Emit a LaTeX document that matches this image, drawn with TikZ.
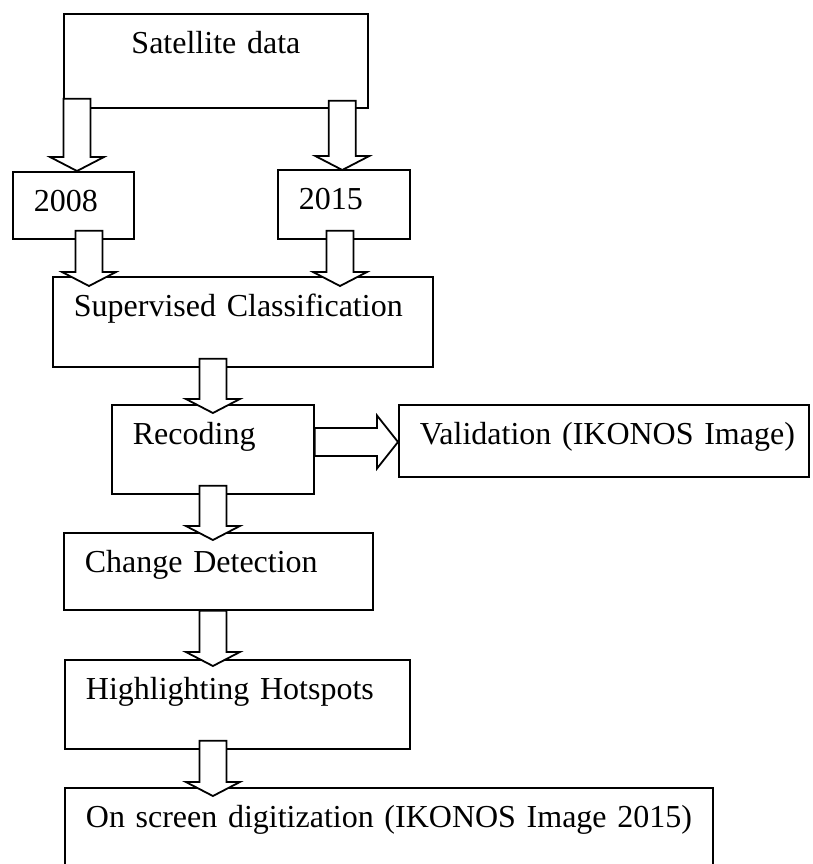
\documentclass[tikz,border=0pt]{standalone}
\usepackage{fontspec}
\setmainfont[WordSpace=0.7]{Liberation Serif}
\usetikzlibrary{calc}

\tikzset{
  box/.style={draw, line width=1.8pt, anchor=north west, inner xsep=21pt, inner ysep=0pt,
    text height=40pt, align=left, font=\fontsize{32}{38}\selectfont},
  blk/.style={draw, line width=1.8pt, fill=white, miter limit=20},
}

% hollow block arrows: tail point, tip point
\newcommand{\blkdown}[2]{%
  \draw[blk] ($(#1)+(-13.5,0)$) -- ($(#2)+(-13.5,-14)$) -- ($(#2)+(-27,-14)$) -- (#2)
    -- ($(#2)+(27,-14)$) -- ($(#2)+(13.5,-14)$) -- ($(#1)+(13.5,0)$) -- cycle;}
\newcommand{\blkright}[2]{%
  \draw[blk] ($(#1)+(0,-14)$) -- ($(#2)+(-21,-14)$) -- ($(#2)+(-21,-26.5)$) -- (#2)
    -- ($(#2)+(-21,26.5)$) -- ($(#2)+(-21,14)$) -- ($(#1)+(0,14)$) -- cycle;}

\begin{document}
\begin{tikzpicture}[x=1pt, y=-1pt]
    \useasboundingbox (0,0) rectangle (812,864);
    \clip (0,0) rectangle (812,864);

    % Boxes
    \node[box, text width=262pt, text depth=54pt, align=center] (sat) at (63,13) {Satellite data};
    \node[box, text width=79pt, text depth=27pt] (y08) at (12,171) {2008};
    \node[box, text width=90pt, text depth=29pt] (y15) at (277,169) {2015};
    \node[box, text width=338pt, text depth=50pt] (sup) at (52,276) {\mbox{Supervised Classification}};
    \node[box, text width=160pt, text depth=49pt] (rec) at (111,404) {Recoding};
    \node[box, text width=368pt, text depth=32pt] (val) at (398,404) {\mbox{Validation (IKONOS Image)}};
    \node[box, text width=267pt, text depth=37pt] (chg) at (63,532) {\mbox{Change Detection}};
    \node[box, text width=303pt, text depth=49pt] (hot) at (64,659) {\mbox{Highlighting Hotspots}};
    \node[box, text width=606pt, text depth=73pt] (scr) at (64,787) {\mbox{On screen digitization (IKONOS Image 2015)}};

    % Arrow ends
    \coordinate (a1) at ([shift={(14,-10)}]sat.south west);
    \coordinate (t1) at (a1 |- y08.north);
    \coordinate (a2) at ([shift={(-26.5,-8)}]sat.south east);
    \coordinate (t2) at ($(a2 |- y15.north)+(0,1)$);
    \coordinate (a3) at ([shift={(77,-9)}]y08.south west);
    \coordinate (t3) at ($(a3 |- sup.north)+(0,10)$);
    \coordinate (a4) at ([shift={(63,-9)}]y15.south west);
    \coordinate (t4) at ($(a4 |- sup.north)+(0,10)$);
    \coordinate (a5) at ($(rec.north |- sup.south)+(0,-9)$);
    \coordinate (t5) at ($(rec.north)+(0,9)$);
    \coordinate (a6) at ([shift={(0,38)}]rec.north east);
    \coordinate (t6) at (a6 -| val.west);
    \coordinate (a7) at ($(rec.south)+(0,-9)$);
    \coordinate (t7) at ($(a7 |- chg.north)+(0,8)$);
    \coordinate (a8) at (a7 |- chg.south);
    \coordinate (t8) at ($(a7 |- hot.north)+(0,7)$);
    \coordinate (a9) at ($(a7 |- hot.south)+(0,-9)$);
    \coordinate (t9) at ($(a7 |- scr.north)+(0,9)$);

    % Arrows
    \blkdown{a1}{t1}
    \blkdown{a2}{t2}
    \blkdown{a3}{t3}
    \blkdown{a4}{t4}
    \blkdown{a5}{t5}
    \blkright{a6}{t6}
    \blkdown{a7}{t7}
    \blkdown{a8}{t8}
    \blkdown{a9}{t9}
\end{tikzpicture}
\end{document}
